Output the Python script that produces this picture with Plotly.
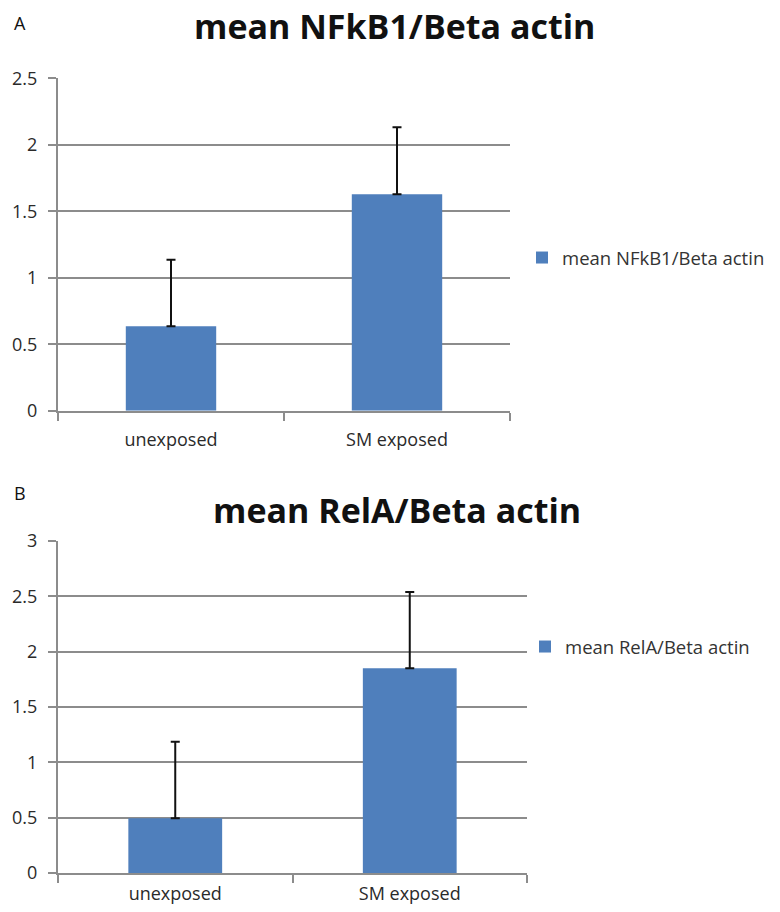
import plotly.graph_objects as go

categories = ["unexposed", "SM exposed"]
nfkb1_values = [0.636, 1.627]
nfkb1_errors = [0.50, 0.505]
rela_values = [0.495, 1.85]
rela_errors = [0.69, 0.69]
nfkb1_ticks = [0, 0.5, 1, 1.5, 2, 2.5]
rela_ticks = [0, 0.5, 1, 1.5, 2, 2.5, 3]

W, H = 780, 912
BLUE = "#4F7FBC"
GRID = "#8C8C8C"
FONT = "Open Sans"

fig = go.Figure()

fig.add_trace(go.Bar(
    x=categories, y=nfkb1_values, name="mean NFkB1/Beta actin",
    marker=dict(color=BLUE, line=dict(width=0)), width=0.4,
    error_y=dict(type="data", array=nfkb1_errors, arrayminus=[0, 0], symmetric=False,
                 color="#111111", thickness=2, width=4.5),
    xaxis="x", yaxis="y", legend="legend",
))
fig.add_trace(go.Bar(
    x=categories, y=rela_values, name="mean RelA/Beta actin",
    marker=dict(color=BLUE, line=dict(width=0)), width=0.4,
    error_y=dict(type="data", array=rela_errors, arrayminus=[0, 0], symmetric=False,
                 color="#111111", thickness=2, width=4.5),
    xaxis="x2", yaxis="y2", legend="legend2",
))


def px_x(p):
    return p / W


def px_y(p):
    return 1 - p / H


xcommon = dict(type="category", showline=True, linecolor=GRID, linewidth=2,
               ticks="outside", tickson="boundaries", ticklen=8, tickwidth=2, tickcolor=GRID,
               showgrid=False, tickfont=dict(family=FONT, size=18, color="#2a2a2a"),
               automargin=False, fixedrange=True)
ycommon = dict(showline=True, linecolor=GRID, linewidth=2, ticks="outside", ticklen=8,
               tickwidth=2, tickcolor=GRID, showgrid=True, gridcolor=GRID, gridwidth=2,
               zeroline=False, tickfont=dict(family=FONT, size=18, color="#2a2a2a"),
               ticklabelstandoff=7, automargin=False, fixedrange=True)

fig.update_layout(
    width=W, height=H, margin=dict(l=0, r=0, t=0, b=0, pad=0, autoexpand=False),
    paper_bgcolor="white", plot_bgcolor="white",
    showlegend=True,
    xaxis=dict(domain=[px_x(58), px_x(510)], anchor="y", ticklabelstandoff=12, **xcommon),
    yaxis=dict(domain=[px_y(410.7), px_y(78.3)], anchor="x", range=[0, 2.5],
               tickvals=nfkb1_ticks, ticktext=[f"{t:g}" for t in nfkb1_ticks], **ycommon),
    xaxis2=dict(domain=[px_x(58), px_x(527)], anchor="y2", ticklabelstandoff=3, **xcommon),
    yaxis2=dict(domain=[px_y(873), px_y(541)], anchor="x2", range=[0, 3],
                tickvals=rela_ticks, ticktext=[f"{t:g}" for t in rela_ticks], **ycommon),
    legend=dict(x=px_x(522), y=px_y(258), xanchor="left", yanchor="middle",
                font=dict(family=FONT, size=18.5, color="#333"), bgcolor="rgba(0,0,0,0)"),
    legend2=dict(x=px_x(525), y=px_y(647), xanchor="left", yanchor="middle",
                 font=dict(family=FONT, size=18.5, color="#333"), bgcolor="rgba(0,0,0,0)"),
    annotations=[
        dict(text="<b>mean NFkB1/Beta actin</b>", x=px_x(394), y=px_y(26), xref="paper", yref="paper",
             showarrow=False, xanchor="center", yanchor="middle",
             font=dict(family=FONT, size=34, color="#111")),
        dict(text="<b>mean RelA/Beta actin</b>", x=px_x(397), y=px_y(510), xref="paper", yref="paper",
             showarrow=False, xanchor="center", yanchor="middle",
             font=dict(family=FONT, size=34, color="#111")),
        dict(text="A", x=px_x(20), y=px_y(23), xref="paper", yref="paper", showarrow=False,
             xanchor="center", yanchor="middle", font=dict(family=FONT, size=18, color="#111")),
        dict(text="B", x=px_x(20), y=px_y(493), xref="paper", yref="paper", showarrow=False,
             xanchor="center", yanchor="middle", font=dict(family=FONT, size=18, color="#111")),
    ],
)

fig.write_html("out.html", config={"displayModeBar": False},
               post_script="document.body.style.margin='0px';")
